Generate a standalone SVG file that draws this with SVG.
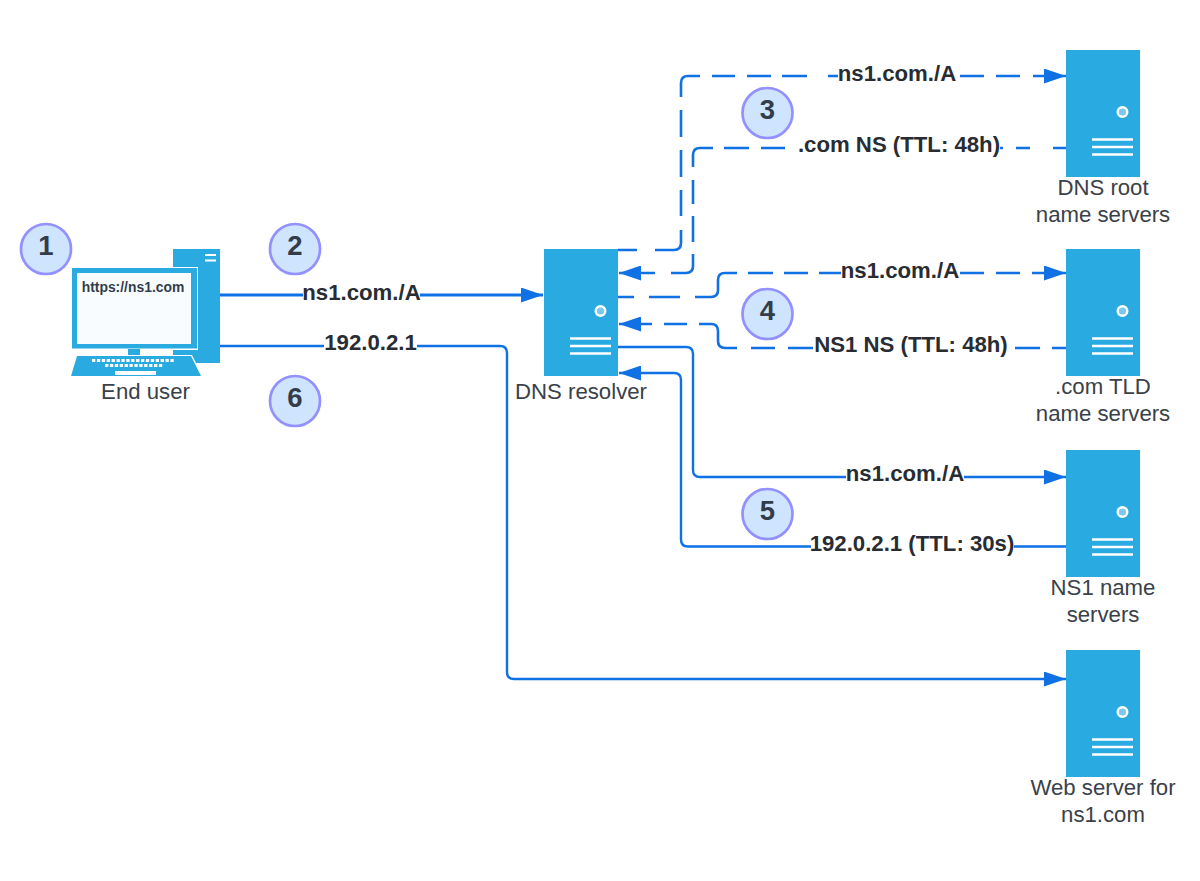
<svg xmlns="http://www.w3.org/2000/svg" width="1200" height="881" viewBox="0 0 1200 881">
<style>
text{font-family:"Liberation Sans",Arial,sans-serif}
.c{fill:none;stroke:#1071e5;stroke-width:2.4}
.t{stroke-width:3}
.d{stroke-width:2.6}
.bg{fill:#fff}
.l{font-size:22.2px;font-weight:700;fill:#282c33;text-anchor:middle}
.n{font-size:22.2px;fill:#3a414a;text-anchor:middle}
.b{fill:#cfe4ff;stroke:#9391ff;stroke-width:2.7}
.bt{font-size:27.5px;font-weight:700;fill:#333c4a;text-anchor:middle}
.s{fill:#29aae1}
.w{fill:none;stroke:#fff;stroke-width:2.5}
</style>
<defs>
<marker id="a" markerUnits="userSpaceOnUse" markerWidth="23" markerHeight="15" refX="22" refY="7.500" orient="auto"><path d="M0,0L22,7.500L0,15z" fill="#1071e5"/></marker>
<g id="srv">
<rect class="s" width="74" height="127"/>
<circle cx="56.500" cy="62" r="4.800" fill="#7cc8ec" stroke="#fff" stroke-width="2.400"/>
<path class="w" d="M26,89.500H67M26,97H67M26,104.500H67"/>
</g>
</defs>
<g id="connectors">
<path class="c t" marker-end="url(#a)" d="M220,295H543"/>
<path class="c" d="M220,346H500Q507,346 507,353V672Q507,679 514,679H1066" marker-end="url(#a)"/>
<path class="c d" d="M618,250H637M655,250H674Q681,250 681,243V230M681,216V190M681,177V150M681,137V110M681,97V83Q681,76 688,76H700M712,76H735M747,76H771M782,76H807M828,76H840M960,76H984M996,76H1020M1033,76H1066" marker-end="url(#a)"/>
<path class="c d" d="M1066,148H1053M1030,148H1016M1003,148H998M785,148H761M749,148H724M713,148H700Q693,148 693,155V167M693,180V204M693,216V242M693,254V266Q693,273 686,273H671M655,273H619" marker-end="url(#a)"/>
<path class="c d" d="M618,297H634M649,297H680M695,297H711Q718,297 718,290V280Q718,273 725,273H737M748,273H773M784,273H808M819,273H843M960,273H984M996,273H1020M1032,273H1066" marker-end="url(#a)"/>
<path class="c d" d="M1066,348H1052M1040,348H1015M813,348H788M775,348H751M737,348H725Q718,348 718,341V331Q718,324 711,324H699M687,324H664M652,324H619" marker-end="url(#a)"/>
<path class="c" d="M618,347H686Q693,347 693,354V470Q693,477 700,477H1066" marker-end="url(#a)"/>
<path class="c" d="M1066,546.500H688Q681,546.500 681,539.500V380Q681,373 674,373H619" marker-end="url(#a)"/>
<g id="labels">
<rect class="bg" x="303" y="282" width="117" height="26"/><text class="l" x="361.500" y="300">ns1.com./A</text>
<rect class="bg" x="324" y="332" width="93" height="26"/><text class="l" x="370.500" y="350">192.0.2.1</text>
<rect class="bg" x="838" y="62" width="118" height="26"/><text class="l" x="897" y="81">ns1.com./A</text>
<rect class="bg" x="799" y="133" width="201" height="26"/><text class="l" x="899" y="152">.com NS (TTL: 48h)</text>
<rect class="bg" x="841" y="259" width="118" height="26"/><text class="l" x="900" y="278">ns1.com./A</text>
<rect class="bg" x="815" y="333" width="192" height="26"/><text class="l" x="911" y="352">NS1 NS (TTL: 48h)</text>
<rect class="bg" x="846" y="462" width="118" height="26"/><text class="l" x="905" y="481">ns1.com./A</text>
<rect class="bg" x="811" y="532" width="203" height="26"/><text class="l" x="912" y="551">192.0.2.1 (TTL: 30s)</text>
</g>
</g>
<g id="end-user">
<rect class="s" x="173" y="249" width="47" height="114"/>
<path d="M205,255H216M205,260.500H216" stroke="#fff" stroke-width="1.800" fill="none"/>
<rect x="71" y="267" width="127" height="83" fill="#fff"/>
<rect class="s" x="72" y="268" width="125" height="80.500"/>
<rect x="77" y="273" width="114" height="71" fill="#f8fcff"/>
<rect class="s" x="128" y="349" width="12" height="6"/>
<path d="M76,355H192L203,377H69z" fill="#fff"/>
<path class="s" d="M77,356H191L201,376H71z"/>
<path d="M92,360.500H174" stroke="#fff" stroke-width="3" stroke-dasharray="3.300 1.600" fill="none"/>
<path d="M105,365.500H163" stroke="#fff" stroke-width="3" stroke-dasharray="3.300 1.600" fill="none"/>
<rect x="115" y="371" width="41" height="4" fill="#fff"/>
<text x="133" y="292" font-size="13.900" font-weight="700" fill="#333c4a" text-anchor="middle">https://ns1.com</text>
<text class="n" x="145.500" y="399">End user</text>
</g>
<g id="dns-resolver"><use href="#srv" x="544" y="249"/><text class="n" x="581" y="399">DNS resolver</text></g>
<g id="dns-root"><use href="#srv" x="1066" y="50"/><text class="n" x="1103" y="195">DNS root</text><text class="n" x="1103" y="222">name servers</text></g>
<g id="com-tld"><use href="#srv" x="1066" y="249"/><text class="n" x="1103" y="394">.com TLD</text><text class="n" x="1103" y="421">name servers</text></g>
<g id="ns1-servers"><use href="#srv" x="1066" y="450"/><text class="n" x="1103" y="595">NS1 name</text><text class="n" x="1103" y="622">servers</text></g>
<g id="web-server"><use href="#srv" x="1066" y="650"/><text class="n" x="1103" y="795">Web server for</text><text class="n" x="1103" y="822">ns1.com</text></g>
<g id="step-1"><circle class="b" cx="46" cy="249" r="25"/><text class="bt" x="46" y="255">1</text></g>
<g id="step-2"><circle class="b" cx="295" cy="249" r="25"/><text class="bt" x="295" y="255">2</text></g>
<g id="step-3"><circle class="b" cx="767.500" cy="113" r="25"/><text class="bt" x="767.500" y="119">3</text></g>
<g id="step-4"><circle class="b" cx="767.500" cy="314" r="25"/><text class="bt" x="767.500" y="320">4</text></g>
<g id="step-5"><circle class="b" cx="767.500" cy="514" r="25"/><text class="bt" x="767.500" y="520">5</text></g>
<g id="step-6"><circle class="b" cx="295" cy="401" r="25"/><text class="bt" x="295" y="407">6</text></g>
</svg>
